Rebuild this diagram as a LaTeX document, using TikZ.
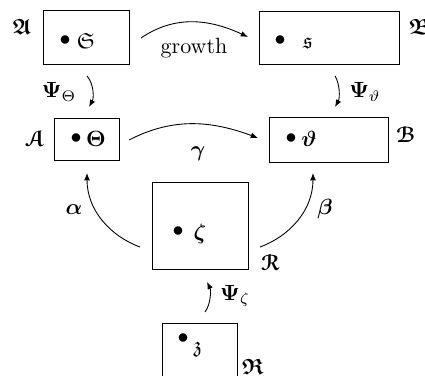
\documentclass[tikz,border=0pt]{standalone}
\usepackage{amsmath}
\usepackage{amssymb}
\usepackage[mathcal]{euscript}
\usetikzlibrary{arrows.meta}
\begin{document}
\begin{tikzpicture}[x=0.4545pt,y=-0.4545pt,
  box/.style={draw, line width=0.45pt, inner sep=0pt},
  conn/.style={-{Latex[length=3.3pt,width=2.6pt]}, line width=0.4pt},
  lbl/.style={inner sep=0pt}]
\path[use as bounding box] (0,0) rectangle (425,376);
\clip (0,0) rectangle (425,376);
% boxes
\node[box, minimum width=39.09pt, minimum height=24.09pt] (bS) at (86,37.5) {};
\node[box, minimum width=63.63pt, minimum height=24.54pt] (bs) at (329,38) {};
\node[box, minimum width=29.54pt, minimum height=19.54pt] (bT) at (86.5,139.5) {};
\node[box, minimum width=54.09pt, minimum height=20.0pt] (bt) at (328.5,140) {};
\node[box, minimum width=43.63pt, minimum height=39.09pt] (bz) at (200,226) {};
\node[box, minimum width=34.09pt, minimum height=45.45pt] (bzz) at (199.5,373) {};
% contents
\node[lbl] (dS) at (65,41) {$\bullet$};
\node[lbl] (cS) at (86,41) {$\mathfrak{S}$};
\node[lbl] (ds) at (280,41) {$\bullet$};
\node[lbl] (cs) at (308,43) {$\mathfrak{s}$};
\node[lbl] (dT) at (76,139) {$\bullet$};
\node[lbl] (cT) at (96,139) {$\boldsymbol{\Theta}$};
\node[lbl] (dt) at (291,139) {$\bullet$};
\node[lbl] (ct) at (309,139) {$\boldsymbol{\vartheta}$};
\node[lbl] (dz) at (178,232) {$\bullet$};
\node[lbl] (cz) at (200,234) {$\boldsymbol{\zeta}$};
\node[lbl] (dzz) at (183,339) {$\bullet$};
\node[lbl] (czz) at (198,349) {$\mathfrak{z}$};
% outer labels
\node[lbl] (lA1) at (22,27) {$\boldsymbol{\mathfrak{A}}$};
\node[lbl] (lB1) at (420,27) {$\boldsymbol{\mathfrak{B}}$};
\node[lbl] (lA) at (35,139) {$\boldsymbol{\mathcal{A}}$};
\node[lbl] (lB) at (406,135) {$\boldsymbol{\mathcal{B}}$};
\node[lbl] (lR) at (270,263) {$\boldsymbol{\mathcal{R}}$};
\node[lbl] (lRR) at (253,367) {$\boldsymbol{\mathfrak{R}}$};
% endpoints
\coordinate (g1) at (141,38); \coordinate (g2) at (248,37);
\coordinate (y1) at (129,140); \coordinate (y2) at (258,138);
\coordinate (p1) at (87,76); \coordinate (p2) at (89,107);
\coordinate (q1) at (335,76); \coordinate (q2) at (335,107);
\coordinate (r1) at (205,312); \coordinate (r2) at (207,282);
\coordinate (a1) at (140,247); \coordinate (a2) at (87,173);
\coordinate (b1) at (260,247); \coordinate (b2) at (313,173);
% connectors
\draw[conn] (g1) .. controls (172,17) and (205,17) .. (g2);
\draw[conn] (y1) .. controls (170,119) and (207,119) .. (y2);
\draw[conn] (p1) .. controls (94,84) and (94,98) .. (p2);
\draw[conn] (q1) .. controls (340,84) and (340,98) .. (q2);
\draw[conn] (r1) .. controls (211,304) and (211,290) .. (r2);
\draw[conn] (a1) .. controls (110,236) and (87,210) .. (a2);
\draw[conn] (b1) .. controls (290,236) and (313,210) .. (b2);
% connector labels
\node[lbl] (tg) at (194,48) {growth};
\node[lbl] (ty) at (198,154) {$\boldsymbol{\gamma}$};
\node[lbl] (tp) at (59,92) {$\boldsymbol{\Psi}_{\Theta}$};
\node[lbl] (tq) at (365,92) {$\boldsymbol{\Psi}_{\vartheta}$};
\node[lbl] (tr) at (235,296) {$\boldsymbol{\Psi}_{\zeta}$};
\node[lbl] (ta) at (74,210) {$\boldsymbol{\alpha}$};
\node[lbl] (tb) at (325,209) {$\boldsymbol{\beta}$};
\end{tikzpicture}
\end{document}
